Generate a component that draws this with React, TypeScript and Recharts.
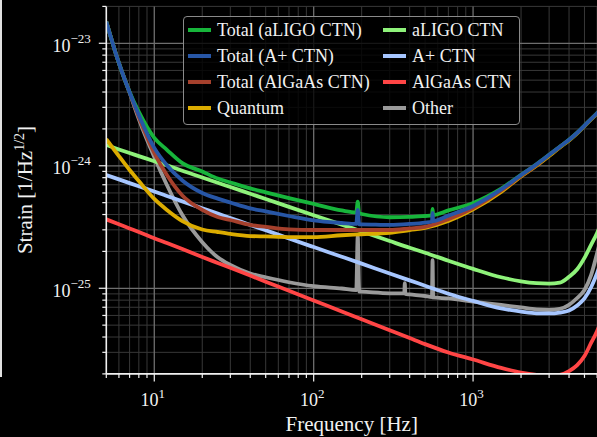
import { LineChart, Line, XAxis, YAxis, CartesianGrid } from 'recharts'

// frequency grid [Hz]; the close triples around 189, 373 and 557 Hz carry the line spikes
const freqs = [
  5, 6, 7, 8, 10, 12, 15, 20, 25, 30,
  40, 50, 70, 100, 150,
  185, 189, 193, 200,
  300, 370, 373, 376, 400,
  500, 552, 557, 562, 700,
  1000, 1500, 2000, 2500, 3000,
  3500, 4000, 4500, 5000, 5500,
  6000, 7000,
]

// strain [1/Hz^1/2]; null = curve has no point there
const totalAligo = [
  1.5e-23, 6.88e-24, 4.0e-24, 2.75e-24, 1.69e-24, 1.35e-24, 1.05e-24, 8.98e-25, 7.86e-25, 7.31e-25,
  6.54e-25, 6.07e-25, 5.45e-25, 4.88e-25, 4.32e-25,
  4.16e-25, 5.09e-25, 4.08e-25, 4.04e-25,
  3.8e-25, null, null, null, 3.82e-25,
  3.89e-25, 3.93e-25, 4.44e-25, 3.97e-25, 4.32e-25,
  4.97e-25, 6.51e-25, 8.43e-25, 1.03e-24, 1.23e-24,
  1.43e-24, 1.63e-24, 1.86e-24, 2.13e-24, 2.41e-24,
  2.69e-24, 3.26e-24,
]
const totalAplus = [
  1.5e-23, 6.88e-24, 3.98e-24, 2.6e-24, 1.4e-24, 1.01e-24, 7.59e-25, 6.0e-25, 5.39e-25, 5.01e-25,
  4.49e-25, 4.24e-25, 3.89e-25, 3.58e-25, 3.41e-25,
  3.35e-25, 4.36e-25, 3.33e-25, 3.33e-25,
  3.29e-25, null, null, null, 3.35e-25,
  3.44e-25, 3.51e-25, 4.12e-25, 3.54e-25, 3.92e-25,
  4.7e-25, 6.41e-25, 8.4e-25, 1.03e-24, 1.23e-24,
  1.43e-24, 1.63e-24, 1.86e-24, 2.13e-24, 2.41e-24,
  2.69e-24, 3.26e-24,
]
const totalAlgaas = [
  1.5e-23, 6.88e-24, 3.98e-24, 2.5e-24, 1.27e-24, 8.41e-25, 5.72e-25, 4.36e-25, 3.82e-25, 3.61e-25,
  3.29e-25, 3.17e-25, 3.02e-25, 2.99e-25, 2.99e-25,
  null, null, null, 2.99e-25,
  2.99e-25, null, null, null, 3.08e-25,
  3.17e-25, null, null, null, 3.66e-25,
  4.52e-25, 6.29e-25, 8.26e-25, 1.01e-24, 1.22e-24,
  1.42e-24, 1.62e-24, 1.85e-24, 2.12e-24, 2.4e-24,
  2.68e-24, 3.25e-24,
]
const quantum = [
  1.65e-24, 1.2e-24, 9.24e-25, 7.51e-25, 5.36e-25, 4.36e-25, 3.54e-25, 3.02e-25, 2.88e-25, 2.78e-25,
  2.67e-25, 2.65e-25, 2.62e-25, 2.62e-25, 2.71e-25,
  null, null, null, 2.76e-25,
  2.84e-25, null, null, null, 2.99e-25,
  3.11e-25, null, null, null, 3.54e-25,
  4.4e-25, 6.11e-25, 8.18e-25, 1.0e-24, 1.2e-24,
  1.41e-24, 1.61e-24, 1.84e-24, 2.11e-24, 2.39e-24,
  2.67e-24, 3.24e-24,
]
const aligoCtn = [
  1.48e-24, 1.36e-24, 1.27e-24, 1.2e-24, 1.09e-24, 1.01e-24, 9.1e-25, 8.03e-25, 7.26e-25, 6.71e-25,
  5.91e-25, 5.36e-25, 4.62e-25, 3.95e-25, 3.31e-25,
  null, null, null, 2.91e-25,
  2.43e-25, null, null, null, 2.14e-25,
  1.95e-25, null, null, null, 1.68e-25,
  1.44e-25, 1.23e-25, 1.14e-25, 1.1e-25, 1.09e-25,
  1.11e-25, 1.24e-25, 1.43e-25, 1.77e-25, 2.26e-25,
  2.83e-25, 4.79e-25,
]
const aplusCtn = [
  8.41e-25, 7.74e-25, 7.22e-25, 6.8e-25, 6.16e-25, 5.67e-25, 5.12e-25, 4.5e-25, 4.07e-25, 3.75e-25,
  3.29e-25, 2.98e-25, 2.55e-25, 2.17e-25, 1.81e-25,
  null, null, null, 1.59e-25,
  1.32e-25, null, null, null, 1.16e-25,
  1.05e-25, null, null, null, 9.03e-26,
  7.88e-26, 6.84e-26, 6.46e-26, 6.25e-26, 6.23e-26,
  6.34e-26, 6.59e-26, 7.24e-26, 8.26e-26, 1.02e-25,
  1.33e-25, 2.48e-25,
]
const algaasCtn = [
  3.65e-25, 3.33e-25, 3.08e-25, 2.88e-25, 2.56e-25, 2.34e-25, 2.09e-25, 1.8e-25, 1.61e-25, 1.47e-25,
  1.27e-25, 1.13e-25, 9.54e-26, 7.95e-26, 6.46e-26,
  null, null, null, 5.58e-26,
  4.54e-26, null, null, null, 3.92e-26,
  3.5e-26, null, null, null, 2.99e-26,
  2.62e-26, 2.24e-26, 2.05e-26, 1.96e-26, 1.92e-26,
  1.96e-26, 2.11e-26, 2.36e-26, 2.8e-26, 3.58e-26,
  4.48e-26, 8.03e-26,
]
const other = [
  1.5e-23, 6.88e-24, 3.95e-24, 2.41e-24, 1.18e-24, 6.97e-25, 3.96e-25, 2.38e-25, 1.79e-25, 1.55e-25,
  1.32e-25, 1.23e-25, 1.12e-25, 1.04e-25, 9.96e-26,
  9.68e-26, 2.67e-25, 9.4e-26, 9.38e-26,
  9.1e-26, 9.08e-26, 1.1e-25, 8.98e-26, 8.9e-26,
  8.65e-26, 8.49e-26, 1.7e-25, 8.41e-26, 8.26e-26,
  7.78e-26, 7.31e-26, 6.97e-26, 6.71e-26, 6.65e-26,
  6.78e-26, 7.33e-26, 8.33e-26, 9.68e-26, 1.28e-25,
  1.93e-25, 4.36e-25,
]

const xMajorTicks = [10, 100, 1000]
const xMinorTicks = [
  5, 6, 7, 8, 9, 20, 30, 40, 50, 60, 70, 80, 90,
  200, 300, 400, 500, 600, 700, 800, 900, 2000, 3000, 4000, 5000, 6000,
]
const yMajorTicks = [1e-25, 1e-24, 1e-23]
const yMinorTicks = [
  2e-26, 3e-26, 4e-26, 5e-26, 6e-26, 7e-26, 8e-26, 9e-26,
  2e-25, 3e-25, 4e-25, 5e-25, 6e-25, 7e-25, 8e-25, 9e-25,
  2e-24, 3e-24, 4e-24, 5e-24, 6e-24, 7e-24, 8e-24, 9e-24,
  2e-23,
]

// legend order (column-wise, 2 columns)
const series = [
  { key: 'totalAligo', name: 'Total (aLIGO CTN)', color: '#17b53b', values: totalAligo },
  { key: 'totalAplus', name: 'Total (A+ CTN)', color: '#2756a6', values: totalAplus },
  { key: 'totalAlgaas', name: 'Total (AlGaAs CTN)', color: '#a5402c', values: totalAlgaas },
  { key: 'quantum', name: 'Quantum', color: '#dcac00', values: quantum },
  { key: 'aligoCtn', name: 'aLIGO CTN', color: '#8ef27a', values: aligoCtn },
  { key: 'aplusCtn', name: 'A+ CTN', color: '#a6c6ff', values: aplusCtn },
  { key: 'algaasCtn', name: 'AlGaAs CTN', color: '#ff4545', values: algaasCtn },
  { key: 'other', name: 'Other', color: '#9a9a9a', values: other },
]

// bottom -> top
const drawOrder = ['other', 'algaasCtn', 'aplusCtn', 'aligoCtn', 'quantum', 'totalAlgaas', 'totalAligo', 'totalAplus']

const data = freqs.map((f, i) => {
  const row: Record<string, number | null> = { f }
  series.forEach((s) => {
    row[s.key] = s.values[i]
  })
  return row
})

const FONT = "'Liberation Serif', 'DejaVu Serif', 'Times New Roman', serif"
const TEXT = '#f2f2f2'

function expLabel(v: number) {
  const e = Math.round(Math.log10(v))
  return e < 0 ? '\u2212' + Math.abs(e) : String(e)
}

function XTick(props: any) {
  const { x, y, payload } = props
  const major = xMajorTicks.includes(payload.value)
  return (
    <g>
      <line x1={x} x2={x} y1={y} y2={y + (major ? 7.5 : 4)} stroke={TEXT} strokeWidth={1.2} />
      {major && (
        <text x={x - 1.5} y={y + 31.7} textAnchor="middle" fill={TEXT} fontSize={18} fontFamily={FONT}>
          10<tspan dy={-8} fontSize={13}>{expLabel(payload.value)}</tspan>
        </text>
      )}
    </g>
  )
}

function YTick(props: any) {
  const { x, y, payload } = props
  const major = yMajorTicks.includes(payload.value)
  return (
    <g>
      <line x1={x - (major ? 7.5 : 4)} x2={x} y1={y} y2={y} stroke={TEXT} strokeWidth={1.2} />
      {major && (
        <text x={x - 15.5} y={y + 8.4} textAnchor="end" fill={TEXT} fontSize={18} fontFamily={FONT}>
          10<tspan dy={-9} fontSize={13}>{expLabel(payload.value)}</tspan>
        </text>
      )}
    </g>
  )
}

function Legend() {
  return (
    <div
      style={{
        position: 'absolute',
        left: 183,
        top: 16,
        width: 337,
        height: 109,
        boxSizing: 'border-box',
        background: 'rgba(0,0,0,0.8)',
        border: '1px solid #8a8a8a',
        borderRadius: 4,
      }}
    >
      {series.map((s, i) => {
        const col = Math.floor(i / 4)
        const row = i % 4
        return (
          <div
            key={s.key}
            style={{
              position: 'absolute',
              left: col === 0 ? 4 : 199,
              top: 13 + row * 25.9 - 11,
              height: 22,
              display: 'flex',
              alignItems: 'center',
              whiteSpace: 'nowrap',
            }}
          >
            <div style={{ width: 23, height: 3.8, background: s.color, marginRight: 6 }} />
            <span style={{ color: TEXT, fontSize: 18, fontFamily: FONT, lineHeight: '22px' }}>{s.name}</span>
          </div>
        )
      })}
    </div>
  )
}

export default function App() {
  return (
    <div
      style={{
        position: 'absolute',
        left: 0,
        top: 0,
        width: 597,
        height: 437,
        overflow: 'hidden',
        background: '#000',
      }}
    >
      {/* edge of the neighbouring panel */}
      <div style={{ position: 'absolute', left: 0, top: 0, width: 2, height: 377, background: '#e0e0e0' }} />

      <LineChart width={600} height={437} data={data} margin={{ top: 6.4, right: 2.9, bottom: 0, left: 0 }}>
        <CartesianGrid stroke="#383838" strokeWidth={1} horizontalValues={yMinorTicks} verticalValues={xMinorTicks} />
        <CartesianGrid stroke="#6e6e6e" strokeWidth={1.3} horizontalValues={yMajorTicks} verticalValues={xMajorTicks} />
        <XAxis
          dataKey="f"
          type="number"
          scale="log"
          domain={[5, 6000]}
          allowDataOverflow
          ticks={[...xMinorTicks, ...xMajorTicks].sort((a, b) => a - b)}
          interval={0}
          height={63.1}
          tickSize={0}
          tickMargin={0}
          tickLine={false}
          tick={<XTick />}
          axisLine={{ stroke: '#f0f0f0', strokeWidth: 1.6 }}
        />
        <XAxis
          xAxisId="top"
          orientation="top"
          dataKey="f"
          type="number"
          scale="log"
          domain={[5, 6000]}
          allowDataOverflow
          height={0}
          tick={false}
          tickLine={false}
          axisLine={{ stroke: '#f0f0f0', strokeWidth: 1.6 }}
        />
        <YAxis
          type="number"
          scale="log"
          domain={[2e-26, 2e-23]}
          allowDataOverflow
          ticks={[...yMinorTicks, ...yMajorTicks].sort((a, b) => a - b)}
          interval={0}
          width={106.3}
          tickSize={0}
          tickMargin={0}
          tickLine={false}
          tick={<YTick />}
          axisLine={{ stroke: '#f0f0f0', strokeWidth: 1.6 }}
        />
        {drawOrder.map((key) => {
          const s = series.find((d) => d.key === key)!
          return (
            <Line
              key={key}
              dataKey={key}
              name={s.name}
              type="monotone"
              stroke={s.color}
              strokeWidth={3.8}
              strokeLinejoin="round"
              dot={false}
              activeDot={false}
              connectNulls
              isAnimationActive={false}
            />
          )
        })}
      </LineChart>

      <svg width={597} height={437} style={{ position: 'absolute', left: 0, top: 0, pointerEvents: 'none' }}>
        <text x={351.7} y={431} textAnchor="middle" fill={TEXT} fontSize={21} fontFamily={FONT}>
          Frequency [Hz]
        </text>
        <text transform="translate(32,190) rotate(-90)" textAnchor="middle" fill={TEXT} fontSize={21} fontFamily={FONT}>
          Strain [1/Hz<tspan dy={-8} fontSize={14}>1/2</tspan>
          <tspan dy={8}>]</tspan>
        </text>
      </svg>

      <Legend />
    </div>
  )
}
